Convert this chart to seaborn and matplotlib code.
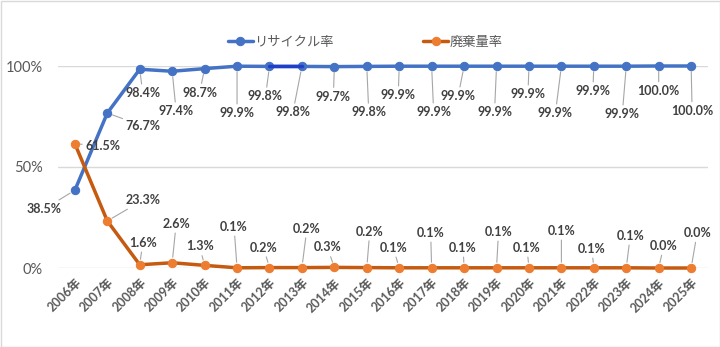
import matplotlib
matplotlib.use("Agg")
import matplotlib.pyplot as plt
import seaborn as sns
import pandas as pd
from matplotlib.patches import Rectangle
from matplotlib.ticker import PercentFormatter

years = [f"{y}年" for y in range(2006, 2026)]
recycle_rate = [38.5, 76.7, 98.4, 97.4, 98.7, 99.9, 99.8, 99.8, 99.7, 99.8,
                99.9, 99.9, 99.9, 99.9, 99.9, 99.9, 99.9, 99.9, 100.0, 100.0]
waste_rate = [61.5, 23.3, 1.6, 2.6, 1.3, 0.1, 0.2, 0.2, 0.3, 0.2,
              0.1, 0.1, 0.1, 0.1, 0.1, 0.1, 0.1, 0.1, 0.0, 0.0]
series_names = ["リサイクル率", "廃棄量率"]

# label offsets in pixels (dx, dy) for each data label
recycle_offsets = [(-31, -19), (36, -13), (3, -24), (4, -40), (-5, -24), (0, -47),
                   (-4, -30), (-9, -46), (-1, -30), (2, -46), (-1, -29), (2, -46),
                   (-6, -30), (-2, -46), (-1, -28), (-6, -47), (-1, -25), (-4, -48),
                   (0, -25), (1, -45)]
waste_offsets = [(28, -2), (36, 21), (3, 22), (4, 39), (-5, 19), (-3, 41),
                 (-6, 20), (5, 39), (-7, 20), (3, 36), (-6, 20), (-1, 35),
                 (-1, 20), (2, 36), (-2, 20), (0, 37), (-2, 19), (4, 32),
                 (5, 22), (6, 35)]

df = pd.DataFrame({"idx": range(len(years)), "year": years,
                   "recycle": recycle_rate, "waste": waste_rate})

sns.set_theme(style="white")
plt.rcParams["font.family"] = ["Lato", "Noto Sans CJK JP", "DejaVu Sans"]

fig = plt.figure(figsize=(7.2, 3.47), dpi=100)
ax = fig.add_axes([58 / 720, 1 - 268 / 347, 650 / 720, 202 / 347])

blue_line, blue_mark = "#4472C4", "#4472C4"
orange_line, orange_mark = "#C55A11", "#ED7D31"

sns.lineplot(data=df, x="idx", y="recycle", ax=ax, color=blue_line, lw=2.5,
             marker="o", markersize=6, markerfacecolor=blue_mark,
             markeredgecolor=blue_mark, label=series_names[0], clip_on=False, zorder=3)
sns.lineplot(data=df.iloc[6:8], x="idx", y="recycle", ax=ax, color="#1F3FC8",
             lw=2.5, legend=False, clip_on=False, zorder=3)
sns.lineplot(data=df, x="idx", y="waste", ax=ax, color=orange_line, lw=2.5,
             marker="o", markersize=6, markerfacecolor=orange_mark,
             markeredgecolor=orange_mark, label=series_names[1], clip_on=False, zorder=3)

ax.set_xlim(-0.52, 19.52)
ax.set_ylim(0, 100)
ax.set_yticks([0, 50, 100])
ax.yaxis.set_major_formatter(PercentFormatter(decimals=0))
ax.set_xticks(df["idx"])
ax.set_xticklabels(years, rotation=45, ha="right", rotation_mode="anchor",
                   fontsize=9, fontweight="bold", color="#595959")
ax.tick_params(axis="y", labelsize=10.5, labelcolor="#595959", length=0, pad=11)
ax.tick_params(axis="x", length=0, pad=6)
ax.grid(axis="y", color="#D9D9D9", lw=1)
ax.set_axisbelow(True)
for s in ax.spines.values():
    s.set_visible(False)
ax.set_xlabel("")
ax.set_ylabel("")

def add_labels(values, offsets):
    for i, (v, off) in enumerate(zip(values, offsets)):
        ax.annotate(f"{v:.1f}%", xy=(i, v), xytext=off, textcoords="offset pixels",
                    ha="center", va="center", fontsize=9, fontweight="bold",
                    color="#404040", zorder=4, annotation_clip=False,
                    arrowprops=dict(arrowstyle="-", color="#A6A6A6", lw=0.8,
                                    shrinkA=0, shrinkB=4))

add_labels(recycle_rate, recycle_offsets)
add_labels(waste_rate, waste_offsets)

ax.get_legend().remove()
handles, labels = ax.get_legend_handles_labels()
fig.legend(handles, labels, loc="center", bbox_to_anchor=(0.5 + 5 / 720, 1 - 42 / 347),
           ncol=2, frameon=False, fontsize=9.5, labelcolor="#595959",
           handlelength=1.9, handletextpad=0.1, columnspacing=6.8)

fig.patches.append(Rectangle((0.5 / 720, 0.5 / 347), 1 - 1 / 720, 1 - 1 / 347,
                             transform=fig.transFigure, fill=False,
                             edgecolor="#D9D9D9", lw=1))

fig.savefig("out.png", dpi=100)
